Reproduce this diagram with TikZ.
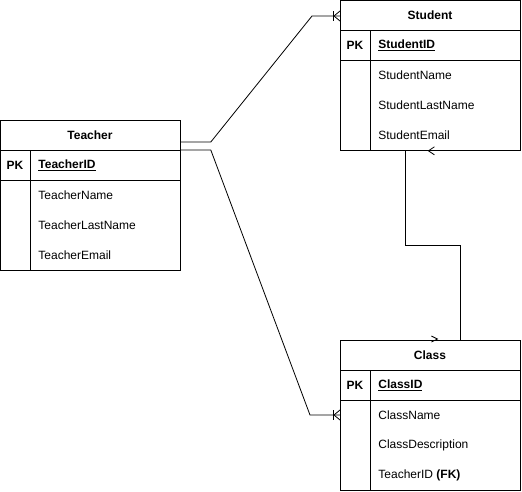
\documentclass[tikz,border=0pt]{standalone}
\usepackage{fontspec}
\setmainfont{Liberation Sans}
\usetikzlibrary{positioning}
\tikzset{
  crowfoot/.pic={
    \draw (-7,-5) -- (-7,5);
    \draw (-6,0) -- (0,-5) (-6,0) -- (0,5);
  },
}

\begin{document}
\begin{tikzpicture}[x=1pt,y=-1pt,line width=0.8pt,
    tablebox/.style={draw,anchor=north west,minimum width=180pt,minimum height=150pt,inner sep=0pt},
    title/.style={inner sep=0pt,font=\bfseries\fontsize{12}{14}\selectfont},
    pkcell/.style={inner sep=0pt,font=\bfseries\fontsize{12}{14}\selectfont},
    field/.style={anchor=west,inner sep=0pt,font=\fontsize{12}{14}\selectfont},
  ]
  \useasboundingbox (0,0) rectangle (522,491);
  % tables
  \node[tablebox] (teacher) at (0,120) {};
  \node[tablebox] (student) at (340,0) {};
  \node[tablebox] (class) at (340,340) {};
  \foreach \t in {teacher,student,class}{
    \draw ([yshift=-30pt]\t.north west) -- ([yshift=-30pt]\t.north east);
    \draw ([yshift=-60pt]\t.north west) -- ([yshift=-60pt]\t.north east);
    \draw ([shift={(30pt,-30pt)}]\t.north west) -- ([xshift=30pt]\t.south west);
  }
  % Teacher
  \node[title] (teacher-title) at (90,135) {Teacher};
  \node[pkcell] (teacher-pk) at (15,165) {PK};
  \node[field] (teacher-id) at (38,165) {\bfseries\underline{TeacherID}};
  \node[field] (teacher-name) at (38,195) {TeacherName};
  \node[field] (teacher-last) at (38,225) {TeacherLastName};
  \node[field] (teacher-mail) at (38,255) {TeacherEmail};
  % Student
  \node[title] (student-title) at (430,15) {Student};
  \node[pkcell] (student-pk) at (355,45) {PK};
  \node[field] (student-id) at (378,45) {\bfseries\underline{StudentID}};
  \node[field] (student-name) at (378,75) {StudentName};
  \node[field] (student-last) at (378,105) {StudentLastName};
  \node[field] (student-mail) at (378,135) {StudentEmail};
  % Class
  \node[title] (class-title) at (430,355) {Class};
  \node[pkcell] (class-pk) at (355,385) {PK};
  \node[field] (class-id) at (378,385) {\bfseries\underline{ClassID}};
  \node[field] (class-name) at (378,415) {ClassName};
  \node[field] (class-desc) at (378,445) {ClassDescription};
  \node[field] (class-fk) at (378,475) {TeacherID \textbf{(FK)}};
  % relations
  \draw ([yshift=-22pt]teacher.north east) -- ++(30,0)
    -- ([xshift=-28pt,yshift=-16pt]student.north west) -- ([yshift=-16pt]student.north west);
  \pic at ([yshift=-16pt]student.north west) {crowfoot};
  \draw ([yshift=-30pt]teacher.north east) -- ++(30,0)
    -- ([xshift=-30pt,yshift=-75pt]class.north west) -- ([yshift=-75pt]class.north west);
  \pic at ([yshift=-75pt]class.north west) {crowfoot};
  \draw ([xshift=30pt]class.north) -- ++(0,-95) -| ([xshift=-25pt]student.south)
    -- ([xshift=-2pt]student.south);
  \draw ([xshift=-2pt]student.south) -- ++(6,-4) ([xshift=-2pt]student.south) -- ++(6,4);
  \draw ([xshift=1pt,yshift=4pt]class.north) -- ++(6,3) -- ++(-6,3);
\end{tikzpicture}
\end{document}
